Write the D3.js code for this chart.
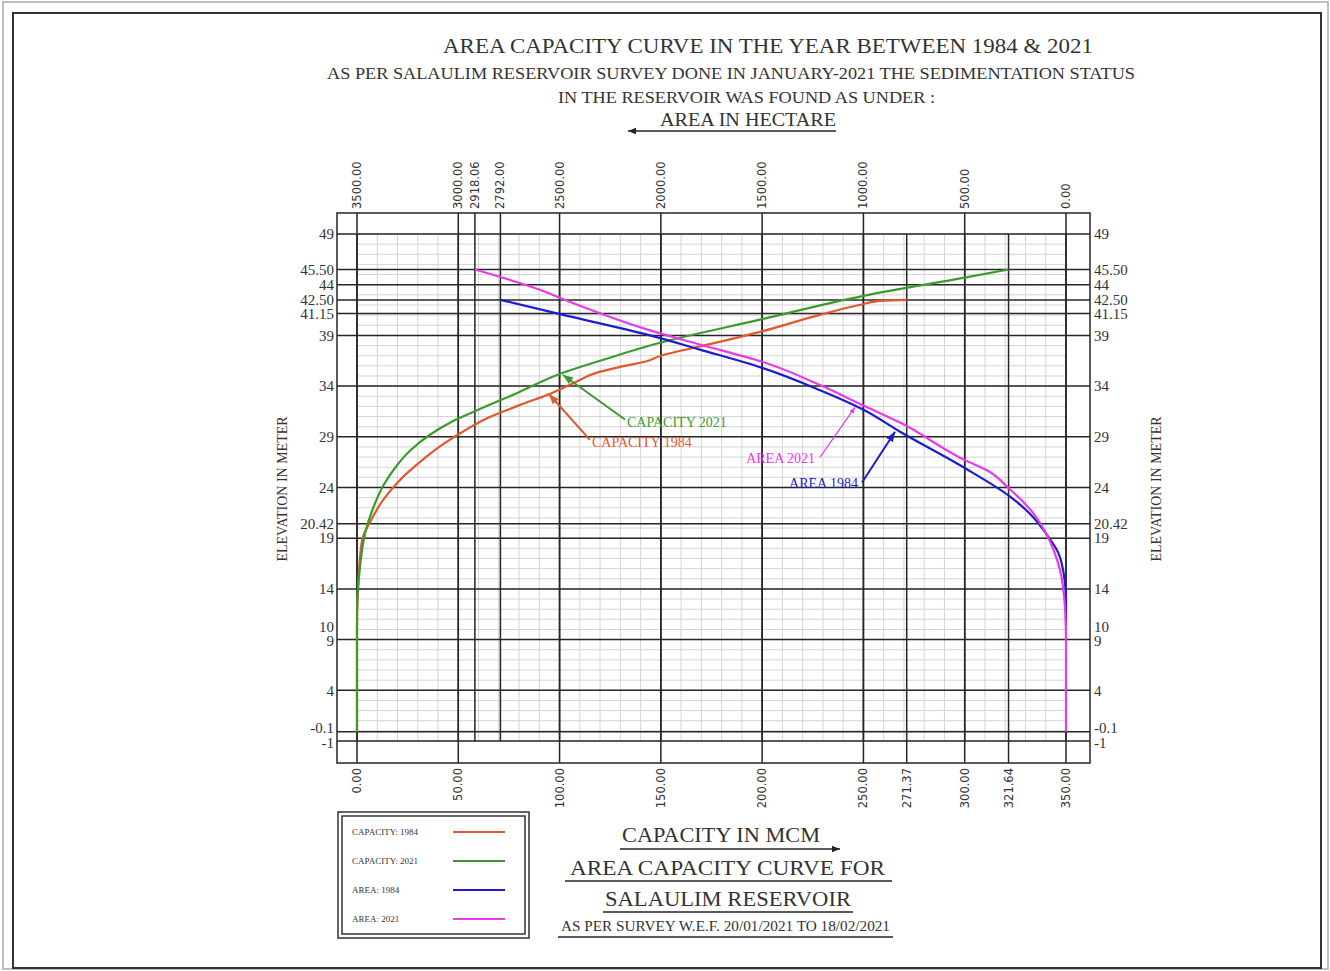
<!DOCTYPE html>
<html>
<head>
<meta charset="utf-8">
<script src="https://cdn.jsdelivr.net/npm/d3@7/dist/d3.min.js"></script>
<style>
  body { margin: 0; background: #fff; }
  text { font-family: "Liberation Serif", "Times New Roman", serif; fill: #333; }
  .num { font-family: "DejaVu Sans", sans-serif; font-size: 11.5px; }
</style>
</head>
<body>
<div class="chart"></div>
<script>
(function(){

  // ---- data ----
  var elevTicks = [49, 45.5, 44, 42.5, 41.15, 39, 34, 29, 24, 20.42, 19, 14, 9, 4, -0.1, -1];
  var elevLabels = ['49', '45.50', '44', '42.50', '41.15', '39', '34', '29', '24', '20.42', '19', '14', '9', '4', '-0.1', '-1'];
  var capTicks = [0, 50, 100, 150, 200, 250, 271.37, 300, 321.64, 350];
  var capLabels = ['0.00', '50.00', '100.00', '150.00', '200.00', '250.00', '271.37', '300.00', '321.64', '350.00'];
  var areaTicks = [3500, 3000, 2918.06, 2792, 2500, 2000, 1500, 1000, 500, 0];
  var areaLabels = ['3500.00', '3000.00', '2918.06', '2792.00', '2500.00', '2000.00', '1500.00', '1000.00', '500.00', '0.00'];

  // capacity in MCM vs elevation
  var capacity1984 = [[0, -0.1], [0, 10], [0.5, 14], [2.5, 18.8], [7, 20.8], [13, 22.8], [21, 24.7], [31, 26.5],
    [42, 28.2], [53, 29.6], [65, 30.9], [80, 32.1], [96, 33.3], [108, 34.4], [118, 35.3], [130, 35.9],
    [142, 36.4], [150, 37], [169, 37.9], [200, 39.4], [228, 41], [248, 42], [258, 42.4], [271.37, 42.5]];
  var capacity2021 = [[0, -0.1], [0, 11.7], [1.5, 16.2], [4, 19.5], [8, 22], [13, 24.2], [19, 26],
    [26, 27.6], [36, 29.2], [47, 30.5], [58, 31.5], [80, 33.4], [100, 35.2], [120, 36.5], [150, 38.3],
    [200, 40.6], [250, 42.9], [300, 44.7], [321.64, 45.5]];
  // area in hectare vs elevation
  var area1984 = [[2792, 42.5], [2498, 41.1], [2053, 39], [1807, 37.6], [1500, 35.8], [1214, 33.6],
    [1002, 31.7], [819, 29.5], [498, 25.9], [276, 23.1], [163, 21.1], [93, 19.3], [39, 17.6],
    [5, 14.6], [0, 13], [0, 10.3]];
  var area2021 = [[2918.06, 45.5], [2597, 43.5], [2498, 42.7], [2053, 39.5], [1807, 38.1], [1500, 36.4],
    [1214, 34.1], [1002, 32.1], [819, 30.4], [499, 26.7], [390, 25.7], [286, 24], [163, 21.5],
    [94, 19.3], [30, 15.9], [5, 12.2], [0, 9.3], [0, -0.1]];

  var colors = { cap1984: '#e2572b', cap2021: '#3c9b2c', area1984: '#1c1ccc', area2021: '#e83ae6' };

  var svg = d3.select('.chart').append('svg')
    .attr('width', 1330)
    .attr('height', 971);

  // page borders
  svg.append('rect').attr('x', 3).attr('y', 2).attr('width', 1325).attr('height', 967)
    .attr('fill', 'none').attr('stroke', '#aaa').attr('stroke-width', 1.5);
  svg.append('rect').attr('x', 13).attr('y', 13).attr('width', 1308).attr('height', 955)
    .attr('fill', 'none').attr('stroke', '#333').attr('stroke-width', 2);

  var frame = { left: 337, right: 1090, top: 213, bottom: 763 };

  var y = d3.scaleLinear().domain([-1, 49]).range([741, 234]);
  var xCap = d3.scaleLinear().domain([0, 350]).range([357, 1066]);
  var xArea = d3.scaleLinear().domain([3500, 0]).range([357, 1066]);

  // minor grid
  var minor = svg.append('g').attr('stroke', '#d4d4d4').attr('stroke-width', 1);
  minor.selectAll('.hm').data(d3.range(-1, 50, 1)).enter().append('line')
    .attr('x1', xCap(0)).attr('x2', xCap(350))
    .attr('y1', function(d){ return y(d); }).attr('y2', function(d){ return y(d); });
  minor.selectAll('.vm').data(d3.range(0, 351, 10)).enter().append('line')
    .attr('x1', function(d){ return xCap(d); }).attr('x2', function(d){ return xCap(d); })
    .attr('y1', y(49)).attr('y2', y(-1));

  // major grid
  var major = svg.append('g').attr('stroke', '#262626').attr('stroke-width', 1.5);
  major.selectAll('.h').data(elevTicks).enter().append('line')
    .attr('x1', frame.left).attr('x2', frame.right)
    .attr('y1', function(d){ return y(d); }).attr('y2', function(d){ return y(d); });
  major.selectAll('.vc').data(capTicks).enter().append('line')
    .attr('x1', function(d){ return xCap(d); }).attr('x2', function(d){ return xCap(d); })
    .attr('y1', y(49)).attr('y2', frame.bottom);
  major.selectAll('.va').data(areaTicks).enter().append('line')
    .attr('x1', function(d){ return xArea(d); }).attr('x2', function(d){ return xArea(d); })
    .attr('y1', frame.top).attr('y2', y(-1));
  major.append('rect')
    .attr('x', frame.left).attr('y', frame.top)
    .attr('width', frame.right - frame.left).attr('height', frame.bottom - frame.top)
    .attr('fill', 'none');

  // elevation labels, both sides (stacked ones nudged apart like the drawing)
  var labelShift = function(d){ return d === -0.1 ? -4 : (d === -1 ? 2 : (d === 9 ? 1 : 0)); };
  [{ x: 334, anchor: 'end' }, { x: 1094, anchor: 'start' }].forEach(function(side){
    svg.append('g').selectAll('text').data(elevTicks).enter().append('text')
      .attr('x', side.x)
      .attr('y', function(d){ return y(d) + labelShift(d); })
      .attr('dy', '0.35em')
      .attr('text-anchor', side.anchor)
      .style('font-size', '15px')
      .text(function(d, i){ return elevLabels[i]; });
    svg.append('text')
      .attr('x', side.x).attr('y', y(10) - 3).attr('dy', '0.35em')
      .attr('text-anchor', side.anchor)
      .style('font-size', '15px')
      .text('10');
  });

  svg.selectAll('.elevTitle').data([282, 1156]).enter().append('text')
    .attr('transform', function(d){ return 'translate(' + d + ',489) rotate(-90)'; })
    .attr('dy', '0.35em')
    .attr('text-anchor', 'middle')
    .style('font-size', '14px')
    .text('ELEVATION  IN  METER');

  // top (area) and bottom (capacity) labels
  svg.append('g').selectAll('text').data(areaTicks).enter().append('text')
    .attr('class', 'num')
    .attr('transform', function(d){ return 'translate(' + xArea(d) + ',209) rotate(-90)'; })
    .attr('dy', '0.35em')
    .attr('text-anchor', 'start')
    .text(function(d, i){ return areaLabels[i]; });
  svg.append('g').selectAll('text').data(capTicks).enter().append('text')
    .attr('class', 'num')
    .attr('transform', function(d){ return 'translate(' + xCap(d) + ',768) rotate(-90)'; })
    .attr('dy', '0.35em')
    .attr('text-anchor', 'end')
    .text(function(d, i){ return capLabels[i]; });

  // curves
  var capLine = d3.line()
    .x(function(d){ return xCap(d[0]); })
    .y(function(d){ return y(d[1]); })
    .curve(d3.curveMonotoneY);
  var areaLine = d3.line()
    .x(function(d){ return xArea(d[0]); })
    .y(function(d){ return y(d[1]); })
    .curve(d3.curveMonotoneY);

  var series = [
    { data: capacity1984, line: capLine, color: colors.cap1984 },
    { data: capacity2021, line: capLine, color: colors.cap2021 },
    { data: area1984, line: areaLine, color: colors.area1984 },
    { data: area2021, line: areaLine, color: colors.area2021 }
  ];
  svg.append('g').selectAll('path').data(series).enter().append('path')
    .attr('d', function(d){ return d.line(d.data); })
    .attr('fill', 'none')
    .attr('stroke', function(d){ return d.color; })
    .attr('stroke-width', 2.2);

  // arrow markers
  var defs = svg.append('defs');
  var addMarker = function(id, color){
    defs.append('marker')
      .attr('id', id)
      .attr('viewBox', '0 0 10 10')
      .attr('refX', 10).attr('refY', 5)
      .attr('markerWidth', 5).attr('markerHeight', 5)
      .attr('markerUnits', 'strokeWidth')
      .attr('orient', 'auto-start-reverse')
      .append('path').attr('d', 'M0,1 L10,5 L0,9 Z').attr('fill', color);
  };
  addMarker('m-cap1984', colors.cap1984);
  addMarker('m-cap2021', colors.cap2021);
  addMarker('m-area1984', colors.area1984);
  addMarker('m-area2021', colors.area2021);
  addMarker('m-black', '#222');

  // callouts: tip on the curve, leader end, text position (in data units)
  var callouts = [
    { label: 'CAPACITY 2021', x: xCap, tip: [101.7, 35.1], end: [132.3, 30.7], text: [133.3, 30.0], anchor: 'start', color: colors.cap2021, marker: 'm-cap2021' },
    { label: 'CAPACITY 1984', x: xCap, tip: [94.8, 33.2], end: [115, 28.7], text: [116, 28.0], anchor: 'start', color: colors.cap1984, marker: 'm-cap1984' },
    { label: 'AREA 2021', x: xArea, tip: [1042, 31.9], end: [1214, 27.0], text: [1239, 26.4], anchor: 'end', color: colors.area2021, marker: 'm-area2021' },
    { label: 'AREA 1984', x: xArea, tip: [844, 29.5], end: [1007, 24.5], text: [1027, 24.0], anchor: 'end', color: colors.area1984, marker: 'm-area1984' }
  ];
  var co = svg.append('g').selectAll('g').data(callouts).enter().append('g');
  co.append('line')
    .attr('x1', function(d){ return d.x(d.end[0]); })
    .attr('y1', function(d){ return y(d.end[1]); })
    .attr('x2', function(d){ return d.x(d.tip[0]); })
    .attr('y2', function(d){ return y(d.tip[1]); })
    .attr('stroke', function(d){ return d.color; })
    .attr('stroke-width', function(d){ return d.label === 'AREA 2021' ? 1.2 : 2; })
    .attr('marker-end', function(d){ return 'url(#' + d.marker + ')'; });
  co.append('text')
    .attr('x', function(d){ return d.x(d.text[0]); })
    .attr('y', function(d){ return y(d.text[1]); })
    .attr('text-anchor', function(d){ return d.anchor; })
    .style('font-size', '14px')
    .style('fill', function(d){ return d.color; })
    .text(function(d){ return d.label; });

  // titles
  var titles = [
    { t: 'AREA CAPACITY  CURVE IN THE YEAR BETWEEN 1984 & 2021', x: 443, y: 53, w: 650, s: 21 },
    { t: 'AS PER SALAULIM RESERVOIR SURVEY DONE IN JANUARY-2021 THE SEDIMENTATION STATUS', x: 327, y: 79, w: 808, s: 17 },
    { t: 'IN THE RESERVOIR WAS FOUND AS UNDER :', x: 558, y: 103, w: 377, s: 17 },
    { t: 'AREA  IN HECTARE', x: 660, y: 126, w: 176, s: 18 },
    { t: 'CAPACITY  IN  MCM', x: 622, y: 842, w: 198, s: 21 },
    { t: 'AREA  CAPACITY CURVE FOR', x: 570, y: 875, w: 315, s: 22 },
    { t: 'SALAULIM RESERVOIR', x: 605, y: 906, w: 246, s: 22 },
    { t: 'AS PER SURVEY W.E.F.  20/01/2021 TO 18/02/2021', x: 561, y: 931, w: 329, s: 14 }
  ];
  svg.append('g').selectAll('text').data(titles).enter().append('text')
    .attr('x', function(d){ return d.x; })
    .attr('y', function(d){ return d.y; })
    .attr('textLength', function(d){ return d.w; })
    .attr('lengthAdjust', 'spacingAndGlyphs')
    .style('font-size', function(d){ return d.s + 'px'; })
    .text(function(d){ return d.t; });

  // underlines / arrows
  var rules = [
    { x1: 836, x2: 628, y: 131, arrow: true },
    { x1: 620, x2: 840, y: 849, arrow: true },
    { x1: 565, x2: 892, y: 881, arrow: false },
    { x1: 603, x2: 853, y: 912, arrow: false },
    { x1: 558, x2: 893, y: 937, arrow: false }
  ];
  svg.append('g').selectAll('line').data(rules).enter().append('line')
    .attr('x1', function(d){ return d.x1; }).attr('x2', function(d){ return d.x2; })
    .attr('y1', function(d){ return d.y; }).attr('y2', function(d){ return d.y; })
    .attr('stroke', '#222').attr('stroke-width', 1.6)
    .attr('marker-end', function(d){ return d.arrow ? 'url(#m-black)' : null; });

  // legend
  var legendItems = [
    { label: 'CAPACITY: 1984', color: colors.cap1984 },
    { label: 'CAPACITY: 2021', color: colors.cap2021 },
    { label: 'AREA: 1984', color: colors.area1984 },
    { label: 'AREA: 2021', color: colors.area2021 }
  ];
  var legend = svg.append('g');
  legend.append('rect').attr('x', 338).attr('y', 812).attr('width', 191).attr('height', 126)
    .attr('fill', 'none').attr('stroke', '#333').attr('stroke-width', 1.5);
  legend.append('rect').attr('x', 342).attr('y', 816).attr('width', 183).attr('height', 118)
    .attr('fill', 'none').attr('stroke', '#333').attr('stroke-width', 1.5);
  var li = legend.selectAll('.item').data(legendItems).enter().append('g')
    .attr('transform', function(d, i){ return 'translate(0,' + (832 + i * 29) + ')'; });
  li.append('text').attr('x', 352).attr('y', 3)
    .style('font-size', '9px')
    .text(function(d){ return d.label; });
  li.append('line').attr('x1', 453).attr('x2', 505).attr('y1', 0).attr('y2', 0)
    .attr('stroke', function(d){ return d.color; }).attr('stroke-width', 2);

}());
</script>
</body>
</html>
